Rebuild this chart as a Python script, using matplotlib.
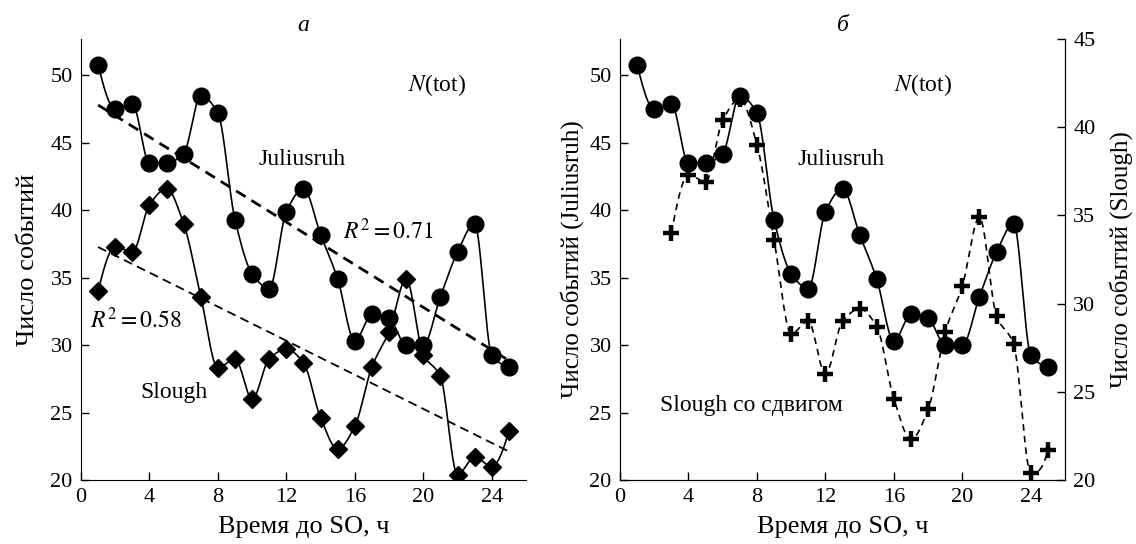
import matplotlib
matplotlib.use('Agg')
import matplotlib.pyplot as plt
import numpy as np

plt.rcParams['font.family'] = ['Liberation Serif', 'DejaVu Serif']
plt.rcParams['mathtext.fontset'] = 'stix'

# Data
hours = np.arange(1, 26)
juliusruh = [50.8, 47.5, 47.9, 43.5, 43.5, 44.2, 48.5, 47.2, 39.3, 35.3,
             34.2, 39.9, 41.6, 38.2, 34.9, 30.3, 32.3, 32.0, 30.0, 30.0,
             33.6, 36.9, 39.0, 29.3, 28.4]
slough = [34.0, 37.3, 36.9, 40.4, 41.6, 39.0, 33.6, 28.3, 29.0, 26.0,
          29.0, 29.7, 28.7, 24.6, 22.3, 24.0, 28.4, 31.0, 34.9, 29.3,
          27.7, 20.4, 21.7, 21.0, 23.6]
shift = 2  # Slough shifted by 2 h on panel b
x_ticks = [0, 4, 8, 12, 16, 20, 24]


def smooth(x, y, n=40):
    # monotone cubic (PCHIP) through the points
    x = np.asarray(x, float)
    y = np.asarray(y, float)
    h = np.diff(x)
    d = np.diff(y) / h
    m = np.zeros_like(y)
    for i in range(1, len(y) - 1):
        if d[i - 1] * d[i] > 0:
            w1 = 2 * h[i] + h[i - 1]
            w2 = h[i] + 2 * h[i - 1]
            m[i] = (w1 + w2) / (w1 / d[i - 1] + w2 / d[i])

    def end(h0, h1, d0, d1):
        s = ((2 * h0 + h1) * d0 - h0 * d1) / (h0 + h1)
        if np.sign(s) != np.sign(d0):
            return 0.0
        if np.sign(d0) != np.sign(d1) and abs(s) > 3 * abs(d0):
            return 3 * d0
        return s

    m[0] = end(h[0], h[1], d[0], d[1])
    m[-1] = end(h[-1], h[-2], d[-1], d[-2])
    t = np.linspace(0, 1, n)
    xs, ys = [], []
    for i in range(len(y) - 1):
        h00 = 2 * t**3 - 3 * t**2 + 1
        h10 = t**3 - 2 * t**2 + t
        h01 = -2 * t**3 + 3 * t**2
        h11 = t**3 - t**2
        xs.append(x[i] + t * h[i])
        ys.append(h00 * y[i] + h10 * h[i] * m[i] + h01 * y[i + 1] + h11 * h[i] * m[i + 1])
    return np.concatenate(xs), np.concatenate(ys)


def style(ax):
    ax.tick_params(direction='in', length=6, width=1, labelsize=16, pad=6)
    ax.spines['top'].set_visible(False)
    ax.set_xlim(0, 26)
    ax.set_xticks(x_ticks)
    ax.set_ylim(20, 52.7)
    ax.set_yticks([20, 25, 30, 35, 40, 45, 50])
    ax.set_xlabel('Время до SO, ч', fontsize=19, labelpad=6)


fig = plt.figure(figsize=(11.36, 5.44), dpi=100)
ax1 = fig.add_axes([0.0713, 0.1176, 0.3917, 0.8107])
ax2 = fig.add_axes([0.5458, 0.1176, 0.3917, 0.8107])
style(ax1)
style(ax2)
ax1.spines['right'].set_visible(False)

# Panel a
ax1.plot(*smooth(hours, juliusruh), color='black', lw=1.2)
ax1.plot(hours, juliusruh, 'o', color='black', ms=12)
ax1.plot(*smooth(hours, slough), color='black', lw=1.2)
ax1.plot(hours, slough, 'D', color='black', ms=9)

kj, bj = np.polyfit(hours, juliusruh, 1)
ks, bs = np.polyfit(hours, slough, 1)
ax1.plot(hours, kj * hours + bj, color='black', lw=2, dashes=(4, 2.5))
ax1.plot(hours, ks * hours + bs, color='black', lw=1.3, dashes=(5, 3))

ax1.set_ylabel('Число событий', fontsize=19, labelpad=8)
ax1.set_title('а', fontsize=17, style='italic', pad=6)
ax1.text(20.8, 49.3, r'$\mathit{N}$(tot)', fontsize=17, ha='center', va='center')
ax1.text(10.35, 43.8, 'Juliusruh', fontsize=17, va='center')
ax1.text(15.3, 38.4, r'$R^2 = 0.71$', fontsize=17, va='center')
ax1.text(0.5, 31.8, r'$R^2 = 0.58$', fontsize=17, va='center')
ax1.text(3.45, 26.5, 'Slough', fontsize=17, va='center')

# Panel b
ax2.plot(*smooth(hours, juliusruh), color='black', lw=1.2)
ax2.plot(hours, juliusruh, 'o', color='black', ms=12)
ax2.set_ylabel('Число событий (Juliusruh)', fontsize=18, labelpad=4)
ax2.set_title('б', fontsize=17, style='italic', pad=6)
ax2.text(17.7, 49.3, r'$\mathit{N}$(tot)', fontsize=17, ha='center', va='center')
ax2.text(10.35, 43.8, 'Juliusruh', fontsize=17, va='center')
ax2.text(2.35, 25.5, 'Slough со сдвигом', fontsize=17, va='center')

ax3 = ax2.twinx()
ax3.set_ylim(20, 45)
ax3.set_yticks([20, 25, 30, 35, 40, 45])
ax3.tick_params(direction='in', length=6, width=1, labelsize=16, pad=6)
ax3.spines['top'].set_visible(False)
shifted_x = hours[:-shift] + shift
shifted_y = slough[:-shift]
ax3.plot(*smooth(shifted_x, shifted_y), color='black', lw=1.2, dashes=(4, 3))
ax3.plot(shifted_x, shifted_y, '+', color='black', ms=12, mew=3.2)
ax3.set_ylabel('Число событий (Slough)', fontsize=18, labelpad=10)

fig.savefig('out.png', dpi=100)
